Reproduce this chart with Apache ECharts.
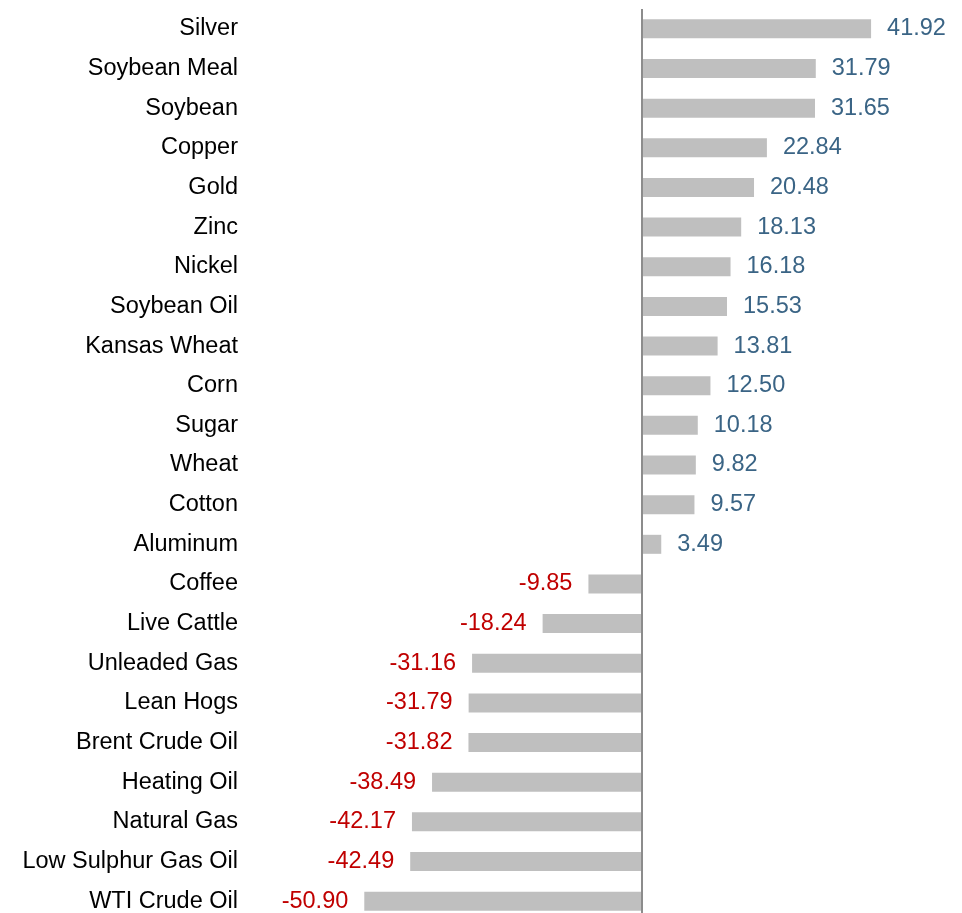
<!DOCTYPE html>
<html>
<head>
<meta charset="utf-8">
<script src="https://cdn.jsdelivr.net/npm/echarts@6/dist/echarts.min.js"></script>
<style>
html,body{margin:0;padding:0;background:#fff;overflow:hidden;}
#chart{width:962px;height:930px;}
</style>
</head>
<body>
<div id="chart"></div>
<script>
const categories = ["Silver","Soybean Meal","Soybean","Copper","Gold","Zinc","Nickel","Soybean Oil","Kansas Wheat","Corn","Sugar","Wheat","Cotton","Aluminum","Coffee","Live Cattle","Unleaded Gas","Lean Hogs","Brent Crude Oil","Heating Oil","Natural Gas","Low Sulphur Gas Oil","WTI Crude Oil"];
const values = [41.92,31.79,31.65,22.84,20.48,18.13,16.18,15.53,13.81,12.50,10.18,9.82,9.57,3.49,-9.85,-18.24,-31.16,-31.79,-31.82,-38.49,-42.17,-42.49,-50.90];

const FONT = '"Liberation Sans", Arial, sans-serif';
const chart = echarts.init(document.getElementById('chart'));
chart.setOption({
  animation: false,
  backgroundColor: '#fff',
  grid: {left: 260, top: 9, width: 682.5, height: 912, containLabel: false},
  xAxis: {
    type: 'value', min: -70, max: 55, show: false
  },
  yAxis: {
    type: 'category', data: categories, inverse: true,
    axisLine: {show: false}, axisTick: {show: false}, splitLine: {show: false},
    axisLabel: {color: '#000', fontSize: 23.5, fontFamily: FONT, margin: 22}
  },
  series: [{
    type: 'bar',
    data: values.map(v => ({
      value: v,
      label: {
        position: v >= 0 ? 'right' : 'left',
        color: v >= 0 ? '#3A6485' : '#C00000'
      }
    })),
    barWidth: 19,
    itemStyle: {color: '#BFBFBF'},
    label: {show: true, distance: 16, fontSize: 23.5, fontFamily: FONT, formatter: p => p.value.toFixed(2)},
    markLine: {
      silent: true, symbol: 'none', label: {show: false},
      lineStyle: {color: '#8C8C8C', width: 2, type: 'solid'},
      data: [{xAxis: 0}]
    }
  }]
});
</script>
</body>
</html>
